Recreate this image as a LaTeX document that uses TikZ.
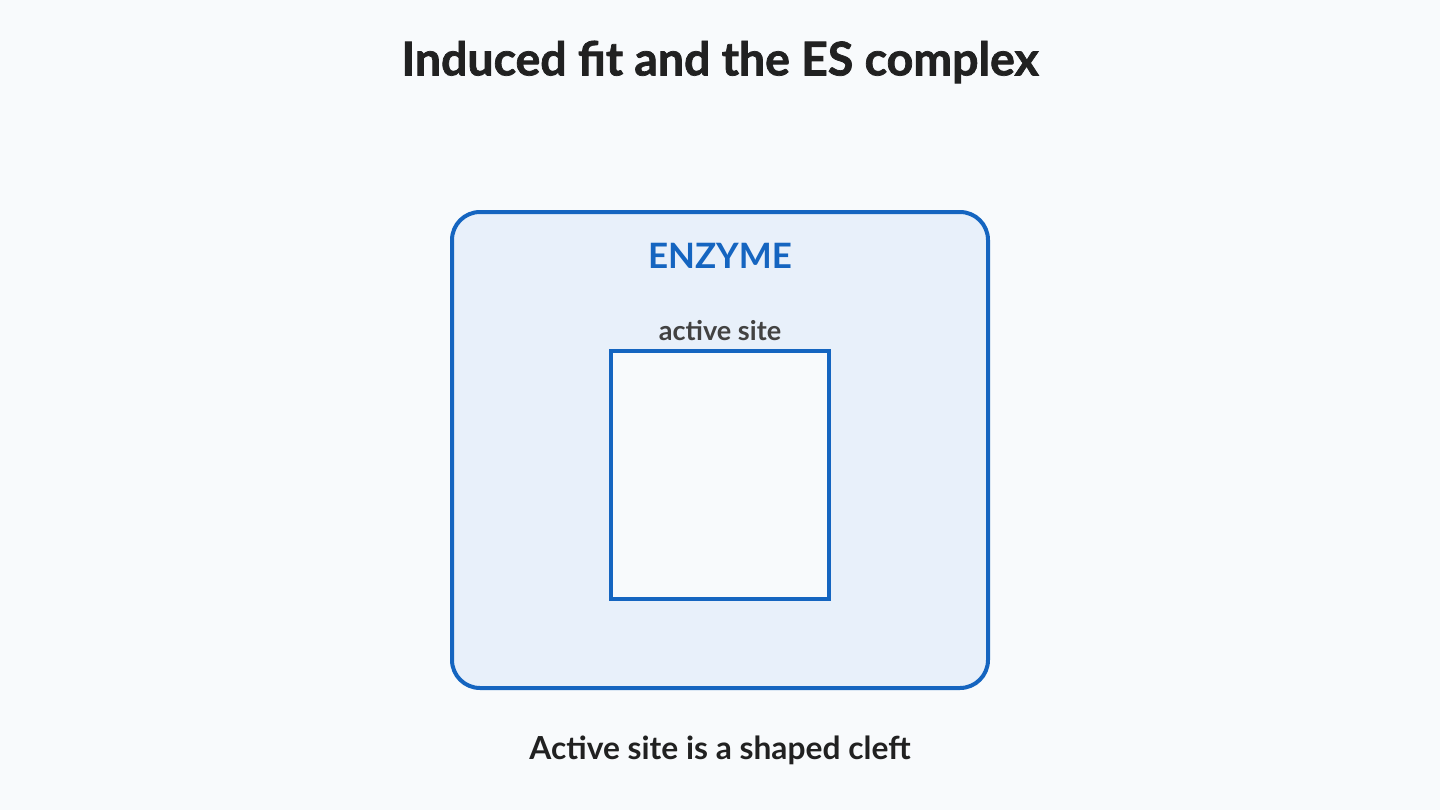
\documentclass[tikz,border=0pt]{standalone}
\usepackage{fontspec}
\setmainfont{Lato}
\newfontfamily\heavyfont{Lato}[BoldFeatures={FakeBold=1.6}]
\definecolor{bg}{HTML}{F8FAFC}
\definecolor{enzfill}{HTML}{E8F0FA}
\definecolor{enzblue}{HTML}{1565C0}
\definecolor{dark}{HTML}{212121}
\definecolor{grey}{HTML}{424242}
\begin{document}
\begin{tikzpicture}[x=0.75pt,y=-0.75pt,
  enzbox/.style={draw=enzblue,line width=3pt,fill=enzfill,rounded corners=21pt},
  sitebox/.style={draw=enzblue,line width=2.4pt,fill=bg},
  titletext/.style={font=\heavyfont\bfseries\fontsize{34.8}{42}\selectfont,text=dark},
  captext/.style={font=\bfseries\fontsize{23.8}{28}\selectfont,text=dark},
  enztext/.style={font=\bfseries\fontsize{26.2}{31}\selectfont,text=enzblue},
  sitetext/.style={font=\bfseries\fontsize{20.3}{24}\selectfont,text=grey}]
\fill[bg] (0,0) rectangle (1440,810);
\useasboundingbox (0,0) rectangle (1440,810);
\node[titletext] (title) at (720,62) {Induced fit and the ES complex};
\draw[enzbox] (452,212) rectangle (988,688);
\coordinate (enz) at (720,450);
\node[enztext] (enzlabel) at (720,256) {ENZYME};
\draw[sitebox] (611,351) rectangle (829,599);
\coordinate (site) at (720,475);
\node[sitetext] (sitelabel) at (720,331) {active site};
\node[captext] (caption) at (720,750) {Active site is a shaped cleft};
\end{tikzpicture}
\end{document}
